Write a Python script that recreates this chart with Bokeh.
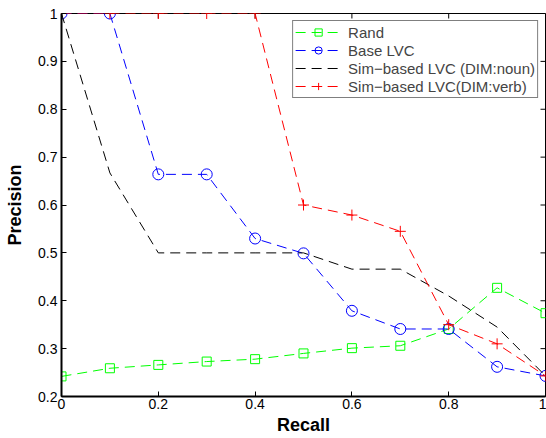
import math
from bokeh.plotting import figure
from bokeh.models import (Range1d, FixedTicker, CustomJSTickFormatter, Legend, LegendItem)
from bokeh.embed import file_html
from bokeh.resources import INLINE

recall = [0.0, 0.1, 0.2, 0.3, 0.4, 0.5, 0.6, 0.7, 0.8, 0.9, 1.0]
rand = [0.242, 0.259, 0.266, 0.273, 0.278, 0.290, 0.301, 0.306, 0.341, 0.427, 0.374]
base_lvc = [1.0, 1.0, 0.664, 0.664, 0.530, 0.499, 0.379, 0.341, 0.341, 0.262, 0.243]
sim_noun = [1.0, 0.667, 0.500, 0.500, 0.500, 0.500, 0.466, 0.466, 0.410, 0.345, 0.243]
sim_verb = [1.0, 1.0, 1.0, 1.0, 1.0, 0.600, 0.579, 0.545, 0.350, 0.310, 0.243]

x_ticks = [0, 0.2, 0.4, 0.6, 0.8, 1]
y_ticks = [0.2, 0.3, 0.4, 0.5, 0.6, 0.7, 0.8, 0.9, 1]
names = ["Rand", "Base LVC", "Sim\u2212based LVC (DIM:noun)", "Sim\u2212based LVC(DIM:verb)"]

FONT = "Liberation Sans"

p = figure(width=546, height=438, output_backend="svg", toolbar_location=None,
           x_range=Range1d(0, 1), y_range=Range1d(0.2, 1),
           min_border_left=61, min_border_right=1, min_border_top=13, min_border_bottom=42)
p.xgrid.visible = False
p.ygrid.visible = False
p.outline_line_color = "black"
p.outline_line_width = 1
p.background_fill_color = "white"

fmt = CustomJSTickFormatter(code="return (Math.round(tick*10)/10).toString();")

for ax, ticks in ((p.xaxis[0], x_ticks), (p.yaxis[0], y_ticks)):
    ax.ticker = FixedTicker(ticks=ticks)
    ax.formatter = fmt
    ax.major_tick_in = 5
    ax.major_tick_out = 0
    ax.minor_tick_line_color = None
    ax.axis_line_width = 2
    ax.major_tick_line_width = 1
    ax.major_label_text_font = FONT
    ax.major_label_text_font_size = "14px"
    ax.major_label_text_color = "black"
    ax.axis_label_text_font = FONT
    ax.axis_label_text_font_style = "bold"
    ax.axis_label_text_color = "black"

p.xaxis[0].axis_label = "Recall"
p.xaxis[0].axis_label_text_font_size = "18px"
p.xaxis[0].major_label_standoff = 2
p.xaxis[0].axis_label_standoff = 3
p.yaxis[0].axis_label = "Precision"
p.yaxis[0].axis_label_text_font_size = "18px"
p.yaxis[0].major_label_standoff = 4
p.yaxis[0].axis_label_standoff = 10

# inward box ticks on the top and right edges (outer half clipped by the frame)
p.scatter([1] * len(y_ticks), y_ticks, marker="dash", size=10, line_color="black",
          line_width=1)
p.scatter(x_ticks, [1] * len(x_ticks), marker="dash", angle=math.pi / 2, size=10,
          line_color="black", line_width=1)

dash = "10 6"
items = []

l1 = p.line(recall, rand, line_color="#00ff00", line_dash=dash, line_width=1)
m1 = p.scatter(recall, rand, marker="square", size=9, line_color="#00ff00", fill_color=None)
items.append(LegendItem(label=names[0], renderers=[l1, m1]))

l2 = p.line(recall, base_lvc, line_color="#0000ff", line_dash=dash, line_width=1)
m2 = p.scatter(recall, base_lvc, marker="circle", size=11, line_color="#0000ff", fill_color=None)
items.append(LegendItem(label=names[1], renderers=[l2, m2]))

l3 = p.line(recall, sim_noun, line_color="black", line_dash=dash, line_width=1)
items.append(LegendItem(label=names[2], renderers=[l3]))

l4 = p.line(recall, sim_verb, line_color="#ff0000", line_dash=dash, line_width=1)
m4 = p.scatter(recall, sim_verb, marker="cross", size=11, line_color="#ff0000", fill_color=None)
items.append(LegendItem(label=names[3], renderers=[l4, m4]))

legend = Legend(items=items, location="top_right", margin=7, padding=2, spacing=0,
                glyph_width=46, glyph_height=18, label_height=18, label_standoff=7,
                label_text_font=FONT, label_text_font_size="15px",
                border_line_color="black", border_line_width=1,
                background_fill_alpha=1.0)
p.add_layout(legend, "center")

open("out.html", "w").write(file_html(p, INLINE))
